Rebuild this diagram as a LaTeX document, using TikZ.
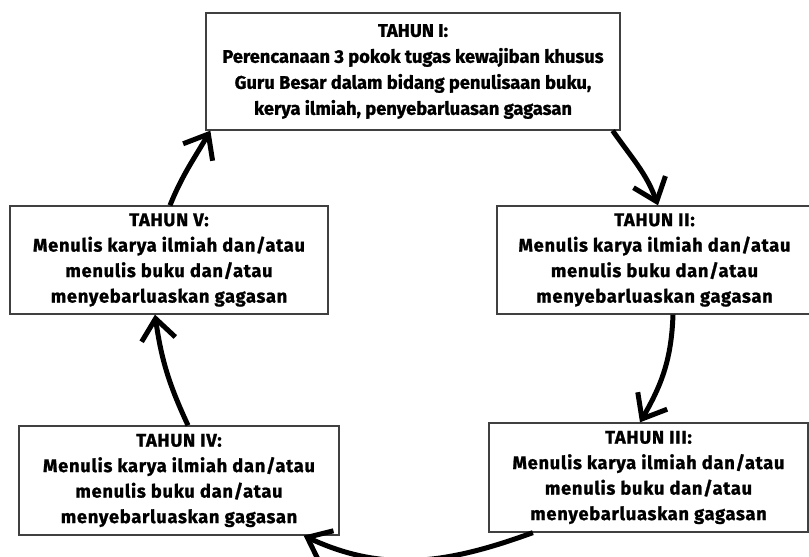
\documentclass[tikz,border=0pt]{standalone}
\usepackage{fontspec}
\setmainfont{Fira Sans}[BoldFeatures={FakeBold=1.2}]
\newfontfamily\widefont{Fira Sans}[LetterSpace=4,BoldFeatures={FakeBold=1.2}]
\usetikzlibrary{arrows.meta}
\begin{document}
\begin{tikzpicture}[x=1pt,y=1pt,
  box/.style={draw=black!75, line width=1.3pt, rectangle, inner sep=0pt, align=center,
    font=\bfseries\fontsize{18.3}{26}\selectfont},
  wbox/.style={box, font=\widefont\bfseries\fontsize{18.3}{25.5}\selectfont},
  cyc/.style={line width=5pt, -{Straight Barb[length=21pt,width=34pt]}}]
\useasboundingbox (0,0) rectangle (809,557);
\node[box, minimum width=414pt, minimum height=117pt] (I) at (413,485.5)
  {TAHUN I:\\Perencanaan 3 pokok tugas kewajiban khusus\\Guru Besar dalam bidang penulisaan buku,\\kerya ilmiah, penyebarluasan gagasan};
\node[wbox, minimum width=315pt, minimum height=108pt] (II) at (654.5,297)
  {TAHUN II:\\Menulis karya ilmiah dan/atau\\menulis buku dan/atau\\menyebarluaskan gagasan};
\node[wbox, minimum width=319pt, minimum height=109pt] (III) at (648.5,79.5)
  {TAHUN III:\\Menulis karya ilmiah dan/atau\\menulis buku dan/atau\\menyebarluaskan gagasan};
\node[wbox, minimum width=320pt, minimum height=109pt] (IV) at (179,76.5)
  {TAHUN IV:\\Menulis karya ilmiah dan/atau\\menulis buku dan/atau\\menyebarluaskan gagasan};
\node[wbox, minimum width=318pt, minimum height=108pt] (V) at (169,297)
  {TAHUN V:\\Menulis karya ilmiah dan/atau\\menulis buku dan/atau\\menyebarluaskan gagasan};
\draw[cyc] ([xshift=-8pt]I.south east) to[out=-55,in=110] ([xshift=3.5pt]II.north);
\draw[cyc] ([xshift=18.5pt]II.south) to[out=-92,in=60] ([xshift=-8.5pt]III.north);
\draw[cyc] ([xshift=44.5pt]III.south west) to[out=-160,in=-25] ([xshift=-36pt]IV.south east);
\draw[cyc] ([xshift=9pt]IV.north) to[out=115,in=-82] ([xshift=-14pt]V.south);
\draw[cyc] ([xshift=1pt]V.north) to[out=68,in=-120] ([xshift=5pt]I.south west);
\end{tikzpicture}
\end{document}
